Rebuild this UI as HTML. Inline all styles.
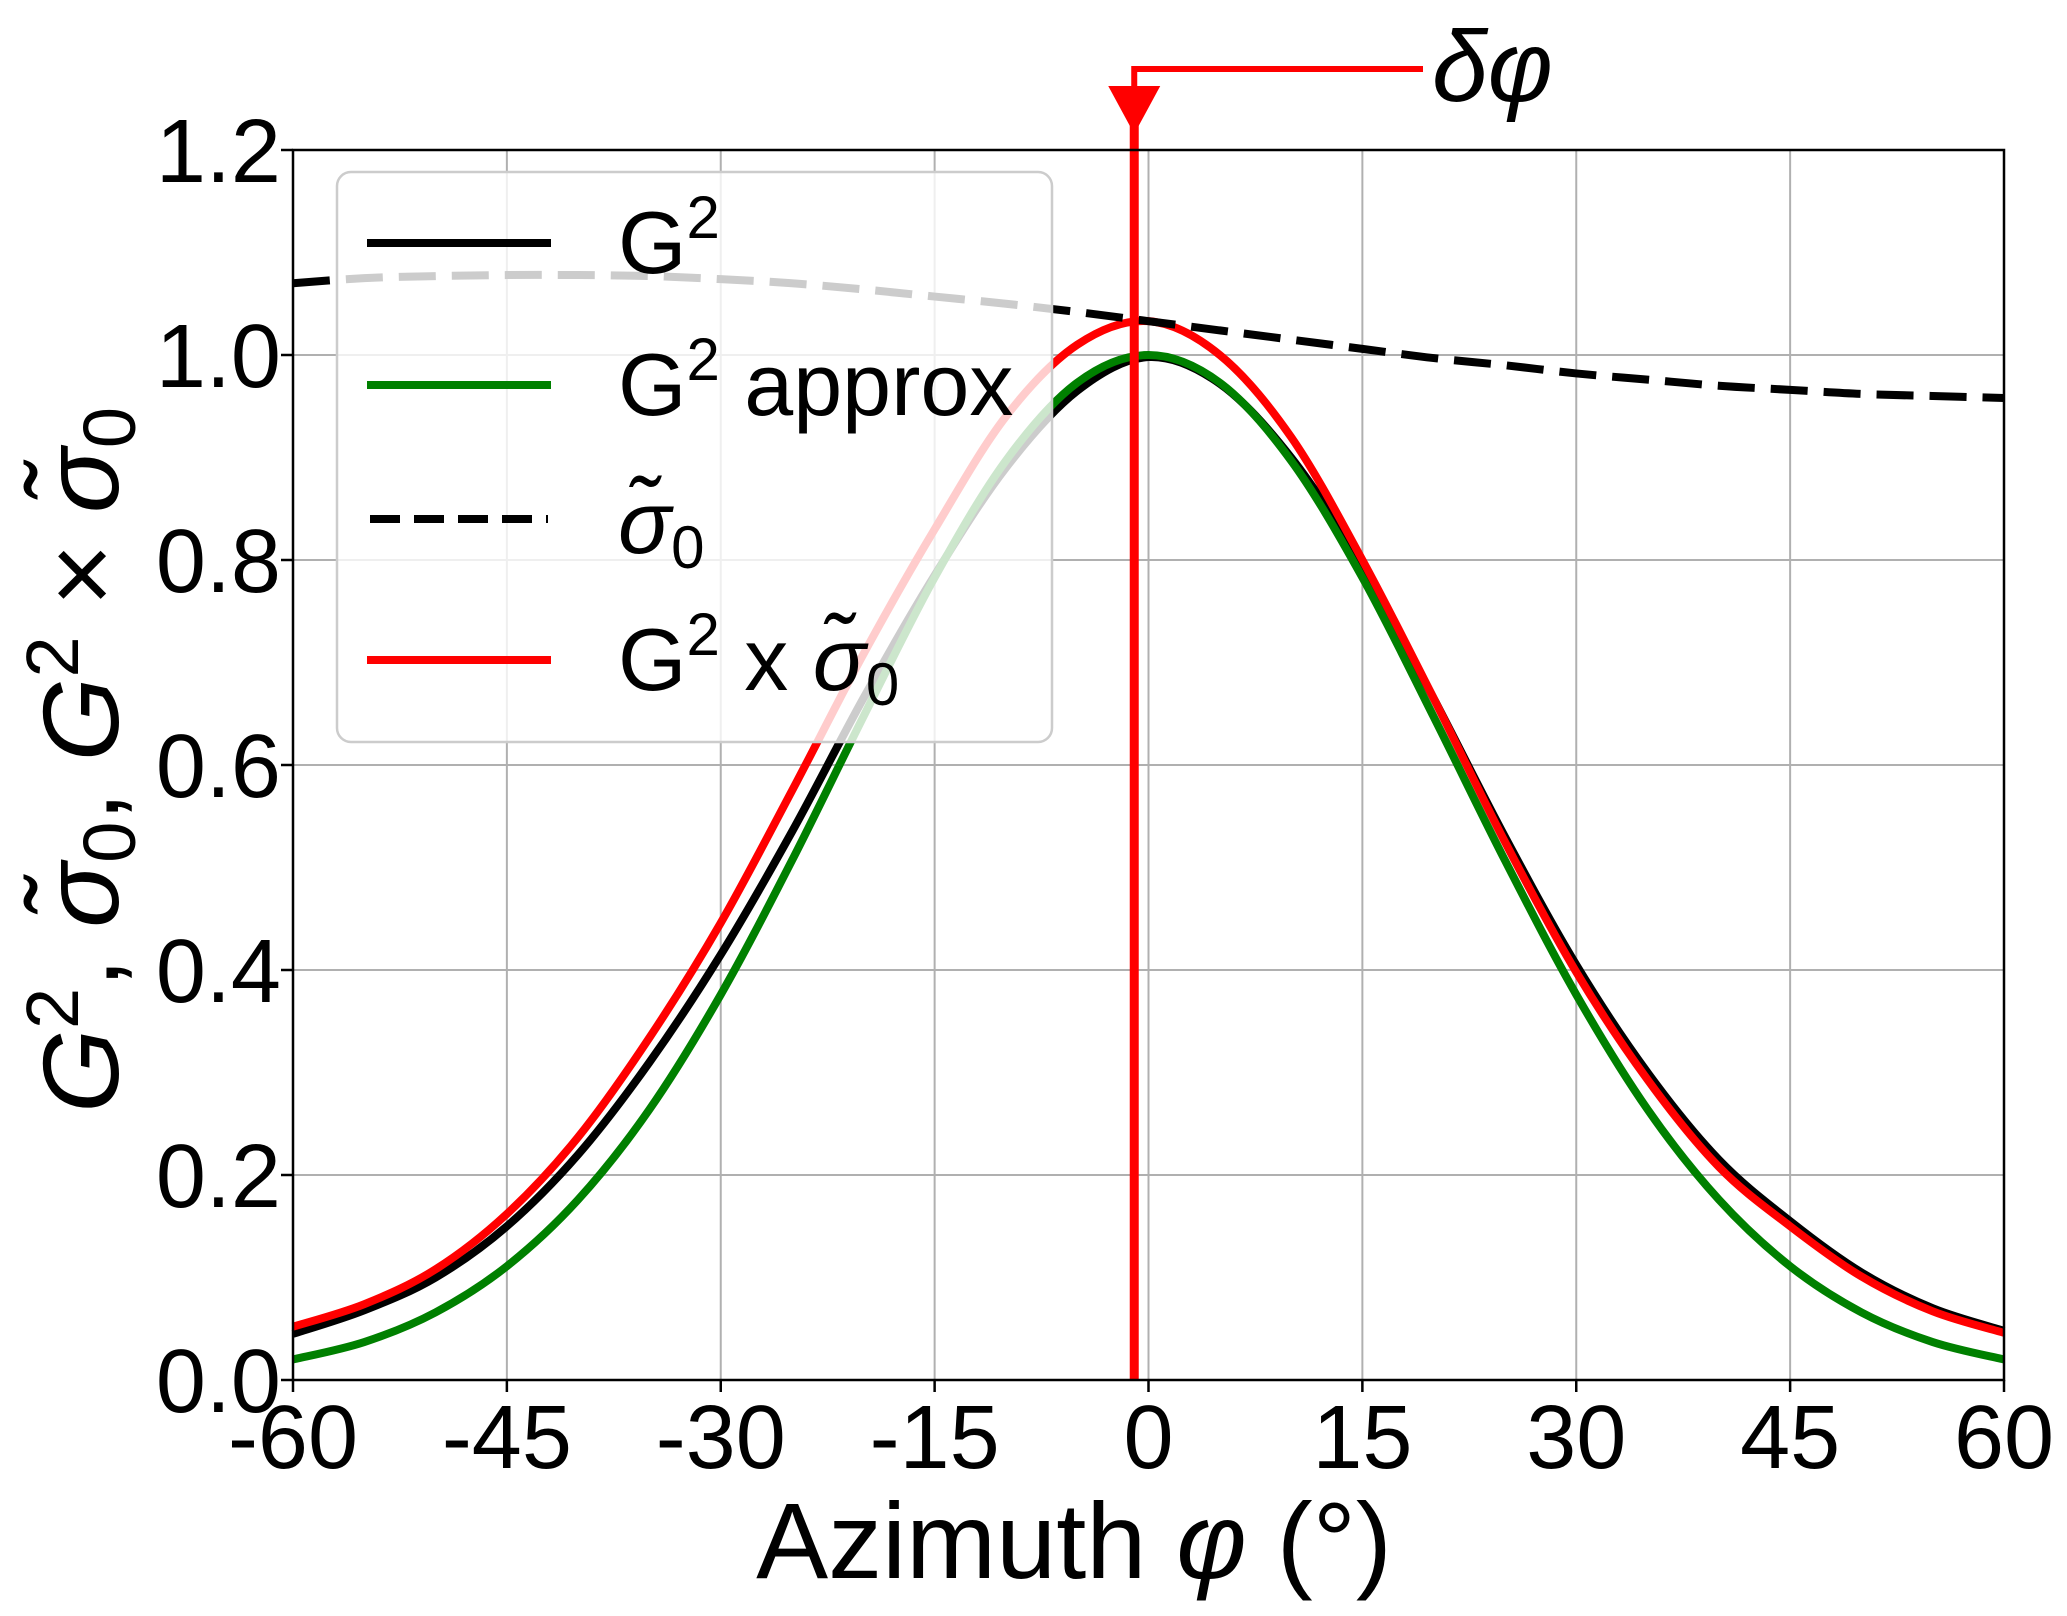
<!DOCTYPE html>
<html><head><meta charset="utf-8"><style>
body{margin:0;background:#fff}
svg{display:block}
text{font-family:"Liberation Sans","DejaVu Sans",sans-serif}
</style></head><body>
<svg id="chart" width="2067" height="1616" viewBox="0 0 2067 1616" xmlns="http://www.w3.org/2000/svg">
<g id="grid"></g>
<g id="series"></g>
<g id="legend">
  <rect x="337" y="172" width="715" height="570" rx="14" fill="#fff" fill-opacity="0.8" stroke="#cccccc" stroke-width="2.5"/>
  <line x1="367" y1="243" x2="551" y2="243" stroke="#000" stroke-width="8"/>
  <text x="618" y="273" font-size="88">G<tspan dy="-35" font-size="60">2</tspan></text>
  <line x1="367" y1="385" x2="551" y2="385" stroke="#008000" stroke-width="8"/>
  <text x="618" y="415" font-size="88">G<tspan dy="-35" font-size="60">2</tspan><tspan dy="35"> approx</tspan></text>
  <line x1="370" y1="519" x2="548" y2="519" stroke="#000" stroke-width="8" stroke-dasharray="30,14"/>
  <text x="618" y="553" font-size="88" font-style="italic">σ̃<tspan font-style="normal" font-size="60" dy="15">0</tspan></text>
  <line x1="367" y1="660" x2="551" y2="660" stroke="#ff0000" stroke-width="8"/>
  <text x="618" y="690" font-size="88">G<tspan dy="-35" font-size="60">2</tspan><tspan dy="35"> x </tspan><tspan font-style="italic">σ̃</tspan><tspan font-size="60" dy="15">0</tspan></text>
</g>
<g id="annot"></g>
<g id="axes"></g>
</svg>
<script>
const xTicks=[-60,-45,-30,-15,0,15,30,45,60];
const yTicks=[0.0,0.2,0.4,0.6,0.8,1.0,1.2];
const yTickLabels=["0.0","0.2","0.4","0.6","0.8","1.0","1.2"];
const phi=[-60,-55,-50,-45,-40,-35,-30,-25,-20,-15,-10,-5,0,5,10,15,20,25,30,35,40,45,50,55,60];
const g2=[0.045,0.068,0.10,0.15,0.22,0.31,0.415,0.535,0.665,0.785,0.89,0.965,0.998,0.972,0.9,0.795,0.665,0.53,0.405,0.30,0.215,0.155,0.105,0.07,0.048];
const g2approx=[0.020,0.037,0.066,0.111,0.176,0.264,0.376,0.507,0.647,0.783,0.897,0.973,1.0,0.973,0.897,0.783,0.647,0.507,0.376,0.264,0.176,0.111,0.066,0.037,0.020];
const sigma0=[1.07,1.075,1.077,1.078,1.078,1.077,1.074,1.07,1.064,1.057,1.05,1.042,1.033,1.024,1.015,1.006,0.997,0.99,0.982,0.976,0.97,0.966,0.962,0.96,0.958];
const product=[0.052,0.074,0.108,0.162,0.237,0.334,0.446,0.575,0.708,0.83,0.94,1.01,1.033,1.0,0.92,0.80,0.665,0.525,0.398,0.293,0.208,0.15,0.101,0.067,0.046];
const deltaPhi=-1;

const L=293,R=2004,T=150,B=1380;
const X=v=>L+(v+60)/120*(R-L);
const Y=v=>B-v/1.2*(B-T);
const NS="http://www.w3.org/2000/svg";
function mk(tag,attrs,parent){const e=document.createElementNS(NS,tag);for(const k in attrs)e.setAttribute(k,attrs[k]);parent.appendChild(e);return e;}
const grid=document.getElementById('grid'),series=document.getElementById('series'),axes=document.getElementById('axes'),annot=document.getElementById('annot');

xTicks.forEach(t=>{
  const g=mk('line',{x1:X(t),x2:X(t),y1:T,y2:B,stroke:'#b0b0b0','stroke-width':2},grid);
  
  
  const tk=mk('line',{x1:X(t),x2:X(t),y1:B,y2:B+12,stroke:'#000','stroke-width':2.5},axes);
  
  
  const tx=mk('text',{x:X(t),y:1468,'font-size':90,'text-anchor':'middle'},axes);
  tx.textContent=String(t);
  
  
});
yTicks.forEach((t,i)=>{
  const g=mk('line',{x1:L,x2:R,y1:Y(t),y2:Y(t),stroke:'#b0b0b0','stroke-width':2},grid);
  
  
  const tk=mk('line',{x1:L-12,x2:L,y1:Y(t),y2:Y(t),stroke:'#000','stroke-width':2.5},axes);
  
  
  const tx=mk('text',{x:281,y:Y(t)+32,'font-size':90,'text-anchor':'end'},axes);
  tx.textContent=yTickLabels[i];
  
  
});

function pathD(ys){
  const p=phi.map((x,i)=>[X(x),Y(ys[i])]);
  let d='M'+p[0][0]+','+p[0][1];
  for(let i=0;i<p.length-1;i++){
    const p0=p[i-1]||p[i],p1=p[i],p2=p[i+1],p3=p[i+2]||p2;
    const c1=[p1[0]+(p2[0]-p0[0])/6,p1[1]+(p2[1]-p0[1])/6];
    const c2=[p2[0]-(p3[0]-p1[0])/6,p2[1]-(p3[1]-p1[1])/6];
    d+=`C${c1[0]},${c1[1]} ${c2[0]},${c2[1]} ${p2[0]},${p2[1]}`;
  }
  return d;
}
const s1=mk('path',{d:pathD(g2),fill:'none',stroke:'#000','stroke-width':8},series);


const s2=mk('path',{d:pathD(g2approx),fill:'none',stroke:'#008000','stroke-width':8},series);


const s3=mk('path',{d:pathD(product),fill:'none',stroke:'#ff0000','stroke-width':8},series);


const s4=mk('path',{d:pathD(sigma0),fill:'none',stroke:'#000','stroke-width':8,'stroke-dasharray':'37,16'},series);



const dx=X(deltaPhi);
const v=mk('line',{x1:dx,x2:dx,y1:120,y2:B,stroke:'#ff0000','stroke-width':9},annot);


const a=mk('polyline',{points:`${dx},100 ${dx},69 1423,69`,fill:'none',stroke:'#ff0000','stroke-width':6},annot);


const h=mk('polygon',{points:`${dx-26},86 ${dx+26},86 ${dx},134`,fill:'#ff0000'},annot);


const dt=mk('text',{x:1432,y:101,'font-size':100,'font-style':'italic','font-family':'DejaVu Sans, sans-serif'},annot);
dt.textContent='δφ';



const fr=mk('rect',{x:L,y:T,width:R-L,height:B-T,fill:'none',stroke:'#000','stroke-width':2.5},axes);


const xt=mk('text',{x:1074,y:1578,'font-size':108,'text-anchor':'middle'},axes);
xt.innerHTML='Azimuth <tspan font-style="italic">φ</tspan> (°)';


const yt=mk('text',{x:0,y:0,'font-size':108,'text-anchor':'middle',transform:'translate(118,760) rotate(-90)'},axes);
yt.innerHTML='<tspan font-style="italic">G</tspan><tspan dy="-40" font-size="74">2</tspan><tspan dy="40">, </tspan><tspan font-style="italic">σ̃</tspan><tspan font-size="74" dy="17">0</tspan><tspan dy="-17">, </tspan><tspan font-style="italic">G</tspan><tspan dy="-40" font-size="74">2</tspan><tspan dy="40"> × </tspan><tspan font-style="italic">σ̃</tspan><tspan font-size="74" dy="17">0</tspan>';


</script>
</body></html>
